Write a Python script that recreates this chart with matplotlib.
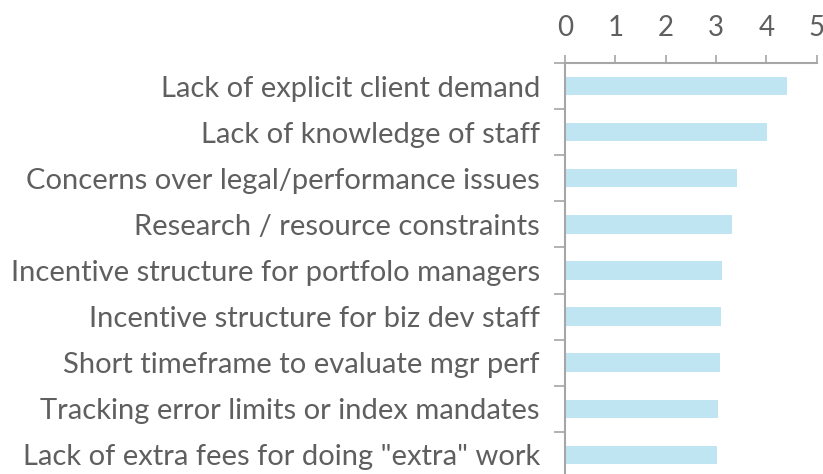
import numpy as np
import matplotlib.pyplot as plt

# Barriers ranked by average score (top to bottom)
barriers = [
    'Lack of explicit client demand',
    'Lack of knowledge of staff',
    'Concerns over legal/performance issues',
    'Research / resource constraints',
    'Incentive structure for portfolo managers',
    'Incentive structure for biz dev staff',
    'Short timeframe to evaluate mgr perf',
    'Tracking error limits or index mandates',
    'Lack of extra fees for doing "extra" work',
]
scores = [4.41, 4.01, 3.42, 3.32, 3.11, 3.09, 3.07, 3.03, 3.02]
x_ticks = [0, 1, 2, 3, 4, 5]

plt.rcParams['font.family'] = ['Lato', 'DejaVu Sans']
text_grey = '#5f5f5f'
axis_grey = '#a6a6a6'

fig = plt.figure(figsize=(8.23, 4.74), dpi=100)
ax = fig.add_axes([0.6865, -0.0084, 0.3058, 0.8755])

y = np.arange(len(barriers))
ax.barh(y, scores, height=0.4, color='#bfe4f2')

ax.set_xlim(0, 5)
ax.set_ylim(len(barriers) - 0.5, -0.5)

# x axis on top
ax.xaxis.tick_top()
ax.set_xticks(x_ticks)
ax.set_xticklabels([str(t) for t in x_ticks])
ax.tick_params(axis='x', direction='out', length=6, width=1.2, color=axis_grey,
               labelsize=20, labelcolor=text_grey, pad=10)

# category labels, with small marks between categories
ax.set_yticks(y)
ax.set_yticklabels(barriers)
ax.set_yticks(np.arange(len(barriers) + 1) - 0.5, minor=True)
ax.tick_params(axis='y', which='major', length=0, labelsize=21,
               labelcolor=text_grey, pad=18)
ax.tick_params(axis='y', which='minor', length=8, width=1.2, color=axis_grey)

for side in ['right', 'bottom']:
    ax.spines[side].set_visible(False)
for side in ['top', 'left']:
    ax.spines[side].set_color(axis_grey)
    ax.spines[side].set_linewidth(1.5)

fig.savefig('out.png', dpi=100)
